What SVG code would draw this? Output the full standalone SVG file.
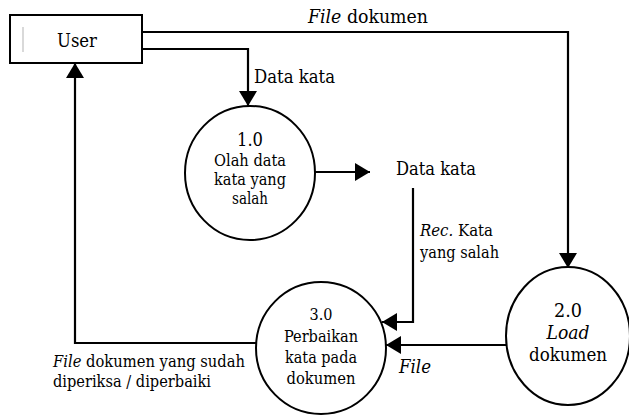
<svg xmlns="http://www.w3.org/2000/svg" width="629" height="417" viewBox="0 0 629 417">
<defs>
<marker id="ah" markerWidth="15" markerHeight="18" refX="15" refY="9" orient="auto" markerUnits="userSpaceOnUse">
<path d="M0,0 L15,9 L0,18 Z" fill="#000"/>
</marker>
<style>
text{font-family:'DejaVu Serif Condensed','DejaVu Serif','Liberation Serif',serif;fill:#000}
.n{fill:#fff;stroke:#000;stroke-width:2}
.c{fill:none;stroke:#000;stroke-width:2.2;marker-end:url(#ah)}
.big{font-size:18.5px}
.p2{font-size:18px}
.mid{font-size:16.5px}
.sm{font-size:16px}
.i{font-style:italic}
</style>
</defs>
<rect width="629" height="417" fill="#fff"/>
<g id="connectors">
<path class="c" d="M142,32 H568 V268"/>
<path class="c" d="M142,49 H248 V106"/>
<path class="c" d="M315,172 H370"/>
<path class="c" d="M413,188 V322 H382"/>
<path class="c" d="M506,345 H386"/>
<path class="c" d="M256,343 H75 V63"/>
<text class="big" x="308" y="23" textLength="120" lengthAdjust="spacingAndGlyphs"><tspan class="i">File</tspan> dokumen</text>
<text class="big" x="254" y="83" textLength="81" lengthAdjust="spacingAndGlyphs">Data kata</text>
<text class="mid" x="420" y="236" textLength="73" lengthAdjust="spacingAndGlyphs"><tspan class="i">Rec.</tspan> Kata</text>
<text class="mid" x="420" y="258" textLength="79" lengthAdjust="spacingAndGlyphs">yang salah</text>
<text class="big i" x="399" y="373" textLength="32" lengthAdjust="spacingAndGlyphs">File</text>
<text class="mid" x="53" y="367" textLength="192" lengthAdjust="spacingAndGlyphs"><tspan class="i">File</tspan> dokumen yang sudah</text>
<text class="mid" x="53" y="387" textLength="158" lengthAdjust="spacingAndGlyphs">diperiksa / diperbaiki</text>
</g>
<g id="user">
<rect class="n" x="10" y="15" width="132" height="48" stroke-width="1.6"/>
<line x1="23" y1="27" x2="23" y2="52" stroke="#ccc" stroke-width="1.5"/>
<text class="big" x="77" y="47" text-anchor="middle" textLength="40" lengthAdjust="spacingAndGlyphs">User</text>
</g>
<g id="p1">
<ellipse class="n" cx="250" cy="173" rx="65" ry="67"/>
<text class="big" x="250" y="146" text-anchor="middle" textLength="26" lengthAdjust="spacingAndGlyphs">1.0</text>
<text class="sm" x="250" y="166" text-anchor="middle" textLength="72" lengthAdjust="spacingAndGlyphs">Olah data</text>
<text class="sm" x="250" y="185" text-anchor="middle" textLength="72" lengthAdjust="spacingAndGlyphs">kata yang</text>
<text class="sm" x="250" y="204" text-anchor="middle" textLength="36" lengthAdjust="spacingAndGlyphs">salah</text>
</g>
<g id="store">
<text class="big" x="396" y="175" textLength="80" lengthAdjust="spacingAndGlyphs">Data kata</text>
</g>
<g id="p2">
<ellipse class="n" cx="568" cy="336" rx="62" ry="69"/>
<text class="p2" x="568" y="317" text-anchor="middle" textLength="28" lengthAdjust="spacingAndGlyphs">2.0</text>
<text class="p2 i" x="568" y="339" text-anchor="middle" textLength="43" lengthAdjust="spacingAndGlyphs">Load</text>
<text class="p2" x="568" y="361" text-anchor="middle" textLength="78" lengthAdjust="spacingAndGlyphs">dokumen</text>
</g>
<g id="p3">
<ellipse class="n" cx="321" cy="348" rx="65" ry="66"/>
<text class="mid" x="321" y="320" text-anchor="middle" textLength="23" lengthAdjust="spacingAndGlyphs">3.0</text>
<text class="mid" x="321" y="342" text-anchor="middle" textLength="74" lengthAdjust="spacingAndGlyphs">Perbaikan</text>
<text class="mid" x="321" y="363" text-anchor="middle" textLength="72" lengthAdjust="spacingAndGlyphs">kata pada</text>
<text class="mid" x="321" y="384" text-anchor="middle" textLength="69" lengthAdjust="spacingAndGlyphs">dokumen</text>
</g>
</svg>
